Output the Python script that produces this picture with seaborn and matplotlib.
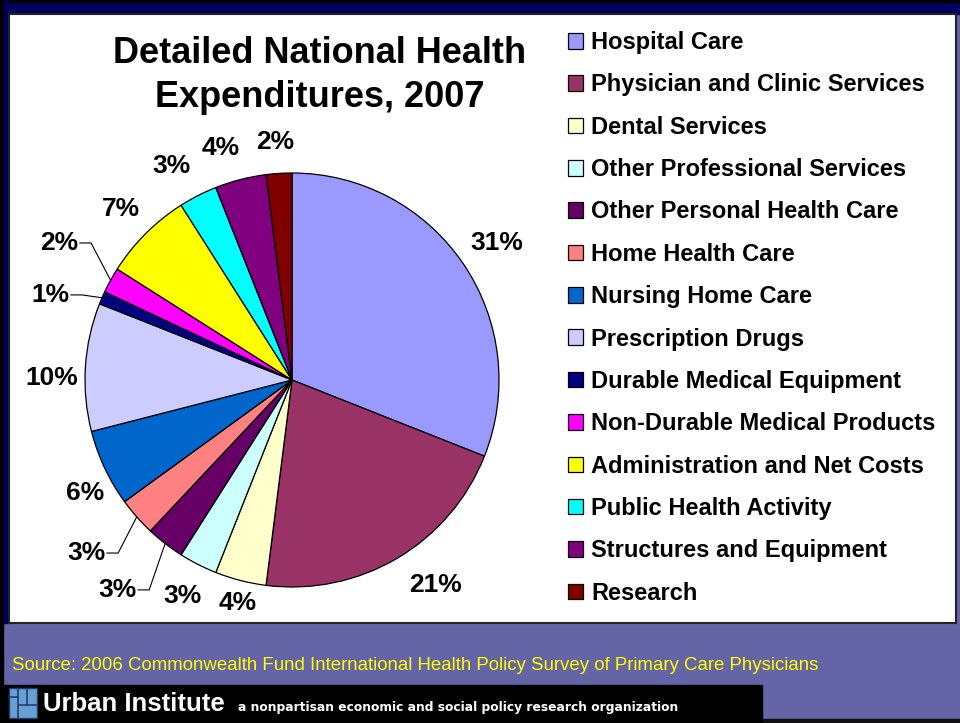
import numpy as np
import matplotlib.pyplot as plt
import seaborn as sns
from matplotlib.patches import Rectangle

# data
categories = ["Hospital Care", "Physician and Clinic Services", "Dental Services",
              "Other Professional Services", "Other Personal Health Care",
              "Home Health Care", "Nursing Home Care", "Prescription Drugs",
              "Durable Medical Equipment", "Non-Durable Medical Products",
              "Administration and Net Costs", "Public Health Activity",
              "Structures and Equipment", "Research"]
shares = [31, 21, 4, 3, 3, 3, 6, 10, 1, 2, 7, 3, 4, 2]
colors = ["#9999FF", "#993366", "#FFFFCC", "#CCFFFF", "#660066", "#FF8080",
          "#0066CC", "#CCCCFF", "#000080", "#FF00FF", "#FFFF00", "#00FFFF",
          "#800080", "#800000"]

title = "Detailed National Health\nExpenditures, 2007"
source = "Source: 2006 Commonwealth Fund International Health Policy Survey of Primary Care Physicians"

sns.set_theme(style="white")
plt.rcParams["font.family"] = ["Liberation Sans", "DejaVu Sans"]

W, H = 960, 723
fig = plt.figure(figsize=(9.6, 7.23), dpi=100, facecolor="#6464A6")


def px(x, y):
    return x / W, 1 - y / H


def box(x0, y0, x1, y1, z=-5, **kw):
    fig.add_artist(Rectangle((x0 / W, 1 - y1 / H), (x1 - x0) / W, (y1 - y0) / H,
                             transform=fig.transFigure, zorder=z, **kw))


# slide background
box(0, 0, W, 14, color="#00005E")
box(0, 0, W, 2, color="black")
box(0, 0, 8, 623, color="#00005E")
box(0, 0, 3, H, color="black")
box(9, 14, 956, 623, facecolor="white", edgecolor="#222222", lw=1.5)
box(0, 719, W, H, color="#111111")

# pie
R = 207
ax = fig.add_axes([42 / W, (H - 630) / H, 500 / W, 500 / H])
wedges, _ = ax.pie(shares, colors=colors, startangle=90, counterclock=False,
                   wedgeprops=dict(edgecolor="black", linewidth=0.9))
lim = 250 / R
ax.set_xlim(-lim, lim)
ax.set_ylim(-lim, lim)
ax.axis("off")

# label placement (text centre in radius units), the rest sit at 1.17 R
label_pos = {0: (0.99, 0.662), 1: (0.691, -0.99), 2: (-0.261, -1.077),
             6: (-1.0, -0.546), 7: (-1.159, 0.01), 11: (-0.58, 1.034),
             12: (-0.343, 1.121), 13: (-0.082, 1.15)}
leader_pos = {4: (-0.845, -1.014), 5: (-0.995, -0.836),
              8: (-1.169, 0.411), 9: (-1.126, 0.662)}
for i, w in enumerate(wedges):
    ang = np.deg2rad((w.theta1 + w.theta2) / 2)
    if i in leader_pos:
        tx, ty = leader_pos[i]
        ax.plot([tx + 0.1, tx + 0.155, np.cos(ang)], [ty, ty, np.sin(ang)],
                color="black", lw=0.8, clip_on=False)
    elif i in label_pos:
        tx, ty = label_pos[i]
    else:
        tx, ty = 1.17 * np.cos(ang), 1.17 * np.sin(ang)
    ax.text(tx, ty, f"{shares[i]}%", ha="center", va="center",
            fontsize=19, fontweight="bold", color="black")

fig.text(*px(320, 75.5), title, ha="center", va="center", fontsize=26,
         fontweight="bold", linespacing=1.31, color="black")

leg = fig.legend(wedges, categories, loc="upper left",
                 bbox_to_anchor=px(568, 31), frameon=False,
                 prop=dict(size=17, weight="bold"), labelcolor="black",
                 handlelength=0.64, handleheight=0.64, handletextpad=0.35,
                 labelspacing=0.82, borderpad=0, borderaxespad=0)

# footer
fig.text(*px(12, 665), source, ha="left", va="center", fontsize=13.4,
         color="#FFFF00")
box(0, 685, 762, H, z=-4, color="black")
box(9, 688, 37, 718, z=-3, facecolor="#6A9FD4", edgecolor="#1F3F73", lw=1)
for seg in [((18, 688), (18, 718)), ((27, 688), (27, 705)),
            ((18, 705), (37, 705)), ((9, 697), (18, 697))]:
    (x0, y0), (x1, y1) = seg
    fig.add_artist(plt.Line2D([x0 / W, x1 / W], [1 - y0 / H, 1 - y1 / H],
                              transform=fig.transFigure, color="#1F3F73",
                              lw=1.2, zorder=-2))
fig.text(*px(43, 704), "Urban Institute", ha="left", va="center",
         fontsize=18.5, fontweight="bold", color="white")
fig.text(*px(238, 708), "a nonpartisan economic and social policy research organization",
         ha="left", va="center", fontsize=8.8, fontweight="bold", color="white",
         family=["DejaVu Sans"])

fig.savefig("out.png", dpi=100, facecolor=fig.get_facecolor())
